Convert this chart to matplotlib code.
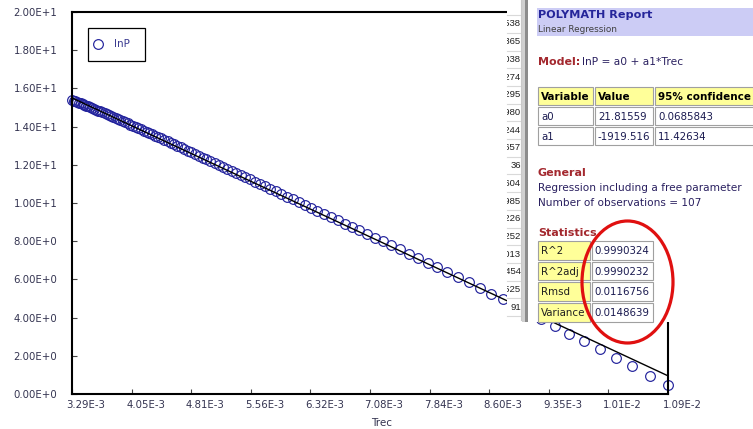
import matplotlib
matplotlib.use("Agg")
import matplotlib.pyplot as plt
from matplotlib.patches import Rectangle, Ellipse
from matplotlib.transforms import ScaledTranslation, Bbox, TransformedBbox
import numpy as np

# data (107 observations, Trec ascending)
trec = [0.0032895, 0.0033113, 0.0033333, 0.0033557, 0.0033784, 0.0034014, 0.0034247, 0.0034483, 0.0034722, 0.0034965,
        0.0035211, 0.0035461, 0.0035714, 0.0035971, 0.0036232, 0.0036496, 0.0036765, 0.0037037, 0.0037313, 0.0037594,
        0.0037879, 0.0038168, 0.0038462, 0.0038760, 0.0039063, 0.0039370, 0.0039683, 0.0040000, 0.0040323, 0.0040650,
        0.0040984, 0.0041322, 0.0041667, 0.0042017, 0.0042373, 0.0042735, 0.0043103, 0.0043478, 0.0043860, 0.0044248,
        0.0044643, 0.0045045, 0.0045455, 0.0045872, 0.0046296, 0.0046729, 0.0047170, 0.0047619, 0.0048077, 0.0048544,
        0.0049020, 0.0049505, 0.0050000, 0.0050505, 0.0051020, 0.0051546, 0.0052083, 0.0052632, 0.0053191, 0.0053763,
        0.0054348, 0.0054945, 0.0055556, 0.0056180, 0.0056818, 0.0057471, 0.0058140, 0.0058824, 0.0059524, 0.0060241,
        0.0060976, 0.0061728, 0.0062500, 0.0063291, 0.0064103, 0.0064935, 0.0065789, 0.0066667, 0.0067568, 0.0068493,
        0.0069444, 0.0070423, 0.0071429, 0.0072464, 0.0073529, 0.0074627, 0.0075758, 0.0076923, 0.0078125, 0.0079365,
        0.0080645, 0.0081967, 0.0083333, 0.0084746, 0.0086207, 0.0087719, 0.0089286, 0.0090909, 0.0092593, 0.0094340,
        0.0096154, 0.0098039, 0.0100000, 0.0102041, 0.0104167, 0.0106383, 0.0108696]
lnP = [15.386, 15.354, 15.319, 15.284, 15.249, 15.213, 15.175, 15.137, 15.097, 15.056,
       15.015, 14.973, 14.930, 14.886, 14.841, 14.795, 14.749, 14.701, 14.653, 14.604,
       14.555, 14.504, 14.453, 14.398, 14.342, 14.284, 14.226, 14.168, 14.108, 14.047,
       13.985, 13.922, 13.858, 13.793, 13.728, 13.661, 13.592, 13.522, 13.451, 13.378,
       13.304, 13.228, 13.151, 13.071, 12.991, 12.909, 12.825, 12.740, 12.653, 12.565,
       12.474, 12.382, 12.288, 12.192, 12.094, 11.994, 11.892, 11.788, 11.681, 11.572,
       11.461, 11.347, 11.232, 11.112, 10.989, 10.864, 10.736, 10.604, 10.470, 10.332,
       10.191, 10.047, 9.899, 9.747, 9.591, 9.431, 9.267, 9.099, 8.926, 8.748,
       8.566, 8.378, 8.185, 7.986, 7.777, 7.566, 7.344, 7.120, 6.884, 6.641,
       6.386, 6.122, 5.850, 5.559, 5.258, 4.948, 4.617, 4.275, 3.922, 3.547,
       3.159, 2.757, 2.340, 1.909, 1.451, 0.955, 0.451]

a0 = 21.81559
a1 = -1919.516

xtick_labels = ["3.29E-3", "4.05E-3", "4.81E-3", "5.56E-3", "6.32E-3", "7.08E-3",
                "7.84E-3", "8.60E-3", "9.35E-3", "1.01E-2", "1.09E-2"]
ytick_vals = [0, 2, 4, 6, 8, 10, 12, 14, 16, 18, 20]
ytick_labels = ["0.00E+0", "2.00E+0", "4.00E+0", "6.00E+0", "8.00E+0", "1.00E+1",
                "1.20E+1", "1.40E+1", "1.60E+1", "1.80E+1", "2.00E+1"]

coef_rows = [["a0", "21.81559", "0.0685843"], ["a1", "-1919.516", "11.42634"]]
stat_names = ["R^2", "R^2adj", "Rmsd", "Variance"]
stat_vals = ["0.9990324", "0.9990232", "0.0116756", "0.0148639"]
side_col = ["4538", "2365", "6038", "0274", "1295", "4980", "3244", "0657", "36",
            "2604", "4985", "5226", "7252", "4013", "1454", "0525", "91"]

W, H = 753, 429
fig = plt.figure(figsize=(W / 100, H / 100), dpi=100)
fig.patch.set_facecolor("white")

tick_col = "#333350"
navy = "#22229c"

ax = fig.add_axes([72 / W, 1 - 394 / H, (668 - 72) / W, (394 - 12) / H])
x = np.array(trec)
ax.plot(x, lnP, "o", ms=7.0, mfc="none", mec=navy, mew=0.85, clip_on=False, zorder=2)
xl = np.array([x.min(), x.max()])
ax.plot(xl, a0 + a1 * xl, color="black", lw=1.0, zorder=3)

ax.set_xlim(x.min(), x.max())
ax.set_ylim(0, 20)
ax.set_xticks(np.linspace(x.min(), x.max(), 11))
ax.set_xticklabels(xtick_labels)
ax.set_yticks(ytick_vals)
ax.set_yticklabels(ytick_labels)
for s in ax.spines.values():
    s.set_linewidth(1.5)
    s.set_color("black")
ax.tick_params(direction="in", length=3.5, width=0.8, color="#444444",
               labelsize=7.3, labelcolor=tick_col)
ax.tick_params(axis="y", pad=10.5)
ax.tick_params(axis="x", pad=4.5)
off = ScaledTranslation(14 / 100, 0, fig.dpi_scale_trans)
for lab in ax.get_xticklabels():
    lab.set_transform(lab.get_transform() + off)
fig.text(382 / W, 1 - 423 / H, "Trec", ha="center", va="center", fontsize=7.5, color=tick_col)

# overlay in pixel coordinates
ov = fig.add_axes([0, 0, 1, 1], zorder=10)
ov.set_xlim(0, W)
ov.set_ylim(H, 0)
ov.axis("off")
ov.patch.set_alpha(0)


def pxbox(x0, y0, x1, y1):
    return TransformedBbox(Bbox.from_extents(x0, y0, x1, y1), ov.transData)


# legend
ov.add_patch(Rectangle((88, 28), 57, 33, fc="white", ec="black", lw=0.9))
ov.plot([98], [44], "o", ms=7.0, mfc="none", mec=navy, mew=0.85)
ov.text(114, 44, "lnP", va="center", fontsize=7.5, color="#3a3a90")

# side column strip
ov.add_patch(Rectangle((507, 0), 15, 320, fc="white", ec="none"))
for i in range(19):
    yy = 15.2 + 17.7 * (i - 1)
    ov.plot([507, 521], [yy, yy], color="#d9d9d9", lw=0.8)
ov.plot([521.5, 521.5], [0, 320], color="#c8c8c8", lw=0.8)
for i, s in enumerate(side_col):
    t = ov.text(521, 24 + 17.7 * i, s, ha="right", va="center",
                fontsize=6.8, color="#202020", family="Liberation Sans")
    t.set_clip_on(True)
    t.set_clip_box(pxbox(507, 0, 521, 320))

# window frame
ov.add_patch(Rectangle((522, 0), 3, 322, fc="#d0d0d0", ec="none"))
ov.add_patch(Rectangle((525, 0), 3, 322, fc="#8c8c8c", ec="none"))

# report panel
ov.add_patch(Rectangle((528, 0), W - 528, 322, fc="white", ec="none"))
ov.add_patch(Rectangle((537, 8), W - 537, 28, fc="#ccccf5", ec="none"))
ov.text(538, 14.5, "POLYMATH Report", va="center", fontsize=8.1, fontweight="bold", color="#25259a")
ov.text(538, 29, "Linear Regression", va="center", fontsize=6.4, color="#404040")

red = "#a3282e"
txt = "#2a2060"
ov.text(538, 62, "Model:", va="center", fontsize=8, fontweight="bold", color=red)
ov.text(582, 62, "lnP = a0 + a1*Trec", va="center", fontsize=7.7, color=txt)


def cell(x0, y0, w, h, fc):
    ov.add_patch(Rectangle((x0 + 1, y0 + 1), w - 2, h - 2, fc=fc, ec="#a0a0a0", lw=0.8))


cols = [537, 594, 654, 770]
yellow = "#ffff99"
for j, name in enumerate(["Variable", "Value", "95% confidence"]):
    cell(cols[j], 86, cols[j + 1] - cols[j], 20, yellow)
    ov.text(cols[j] + 4, 96.5, name, va="center", fontsize=7.5, fontweight="bold", color="black")
for i, row in enumerate(coef_rows):
    y0 = 106 + 20 * i
    for j, v in enumerate(row):
        cell(cols[j], y0, cols[j + 1] - cols[j], 20, "white")
        ov.text(cols[j] + 4, y0 + 10.5, v, va="center", fontsize=7.4, color="#1a1a50")

ov.text(538, 173, "General", va="center", fontsize=8, fontweight="bold", color=red)
ov.text(538, 188, "Regression including a free parameter", va="center", fontsize=7.6, color=txt)
ov.text(538, 203, "Number of observations = 107", va="center", fontsize=7.6, color=txt)

ov.text(538, 233.5, "Statistics", va="center", fontsize=8, fontweight="bold", color=red)
scol = [537, 591, 654]
for i, (n, v) in enumerate(zip(stat_names, stat_vals)):
    y0 = 240 + 20.7 * i
    cell(scol[0], y0, scol[1] - scol[0], 20.7, yellow)
    cell(scol[1], y0, scol[2] - scol[1], 20.7, "white")
    t = ov.text(scol[0] + 4, y0 + 11, n, va="center", fontsize=7.4, color="#202020")
    t.set_clip_on(True)
    t.set_clip_box(pxbox(scol[0] + 2, y0, scol[1] - 1, y0 + 20.7))
    ov.text(scol[1] + 3, y0 + 11, v, va="center", fontsize=7.4, color="#1a1a50")

# red ellipse
ov.add_patch(Ellipse((627.5, 282), 91, 122, fc="none", ec="#e01010", lw=2.3))

fig.savefig("out.png", dpi=100, facecolor="white")
